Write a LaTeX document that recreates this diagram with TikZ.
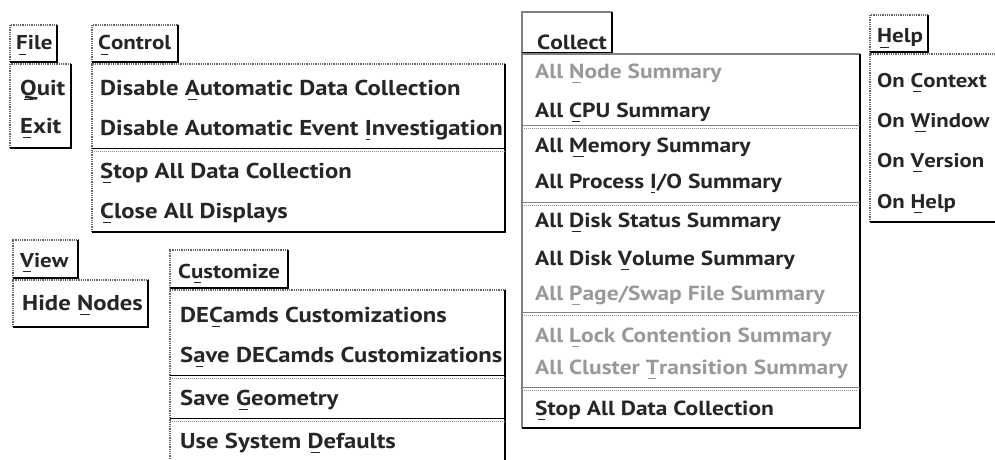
\documentclass[tikz,border=0pt]{standalone}
\usepackage{fontspec}
\setmainfont{PT Sans}[FakeStretch=1.15]
\newcommand\mnem[1]{\setbox0=\hbox{#1}\rlap{\hbox to \wd0{\hss\rule[-5pt]{0.6\wd0}{1.3pt}\hss}}\box0}
\newcommand\menuframe[4]{%
  \draw[dotline] (#1,#4) -- (#1,#2) -- (#3,#2);
  \draw[shadowline] (#3,#2) -- (#3,#4) -- (#1,#4);}
\tikzset{
  dotline/.style={draw=black!60, line width=1.8pt, dash pattern=on 1pt off 0.8pt},
  shadowline/.style={draw=black, line width=1.8pt},
  sepline/.style={draw=black, line width=1pt},
  sepdots/.style={draw=black!45, line width=1pt, dash pattern=on 1pt off 1pt},
  item/.style={anchor=base west, inner sep=0pt, text=black!85,
    font=\fontsize{21.5}{24}\selectfont\bfseries},
  ttl/.style={item, font=\fontsize{20}{24}\selectfont\bfseries},
  hitem/.style={item, font=\fontsize{19.8}{24}\selectfont\bfseries},
  citem/.style={item, font=\fontsize{20.4}{24}\selectfont\bfseries},
  dis/.style={citem, text=black!40},
}
\begin{document}
\begin{tikzpicture}[x=1pt,y=-1pt]
\useasboundingbox (0,0) rectangle (995,460);
% File
\menuframe{10}{25}{57}{62}
\node[ttl] (file) at (16,50) {\mnem{F}ile};
\menuframe{10}{64}{71}{148}
\node[item] (quit) at (20,95) {\mnem{Q}uit};
\node[item] (exit) at (20,133) {\mnem{E}xit};
% Control
\menuframe{92}{25}{178}{62}
\node[ttl] (control) at (98,50) {\mnem{C}ontrol};
\menuframe{92}{64}{505}{232}
\draw[sepline] (92,148) -- (505,148);
\draw[sepdots] (92,151) -- (505,151);
\node[item] (c1) at (100,95) {Disable \mnem{A}utomatic Data Collection};
\node[item] (c2) at (100,135) {Disable Automatic Event \mnem{I}nvestigation};
\node[item] (c3) at (100,178) {\mnem{S}top All Data Collection};
\node[item] (c4) at (100,218) {\mnem{C}lose All Displays};
% View
\menuframe{13}{240}{78}{278}
\node[ttl] (view) at (20,267) {\mnem{V}iew};
\menuframe{13}{280}{148}{327}
\node[item] (hide) at (22,310) {Hide \mnem{N}odes};
% Customize
\menuframe{170}{250}{288}{288}
\node[ttl] (cust) at (178,278) {C\mnem{u}stomize};
\draw[dotline] (170,470) -- (170,290) -- (505,290);
\draw[shadowline] (505,290) -- (505,470);
\draw[sepline] (170,375) -- (505,375);
\draw[sepdots] (170,378) -- (505,378);
\draw[sepline] (170,418) -- (505,418);
\draw[sepdots] (170,421) -- (505,421);
\node[item] (u1) at (180,322) {DE\mnem{C}amds Customizations};
\node[item] (u2) at (180,362) {S\mnem{a}ve DECamds Customizations};
\node[item] (u3) at (180,405) {Save \mnem{G}eometry};
\node[item] (u4) at (180,448) {Use System \mnem{D}efaults};
% Collect
\draw[draw=black!50, line width=1.8pt] (522,53) -- (522,12) -- (612,12);
\draw[shadowline] (612,12) -- (612,53) -- (522,53);
\node[citem] (collect) at (537,50) {C\mnem{o}llect};
\draw[draw=black!50, line width=2.2pt] (522,428) -- (522,54) -- (860,54);
\draw[shadowline] (860,54) -- (860,428) -- (522,428);
\foreach \yy in {125,202,312,387}{
  \draw[draw=black!50, line width=1pt] (522,\yy) -- (860,\yy);
  \draw[sepdots] (524,\yy+3) -- (858,\yy+3);
}
\node[dis] (k1) at (535,78) {All \mnem{N}ode Summary};
\node[citem] (k2) at (535,117) {All \mnem{C}PU Summary};
\node[citem] (k3) at (535,152) {All \mnem{M}emory Summary};
\node[citem] (k4) at (535,188) {All Process \mnem{I}/O Summary};
\node[citem] (k5) at (535,227) {All \mnem{D}isk Status Summary};
\node[citem] (k6) at (535,265) {All Disk \mnem{V}olume Summary};
\node[dis] (k7) at (535,300) {All \mnem{P}age/Swap File Summary};
\node[dis] (k8) at (535,342) {All \mnem{L}ock Contention Summary};
\node[dis] (k9) at (535,374) {All Cluster \mnem{T}ransition Summary};
\node[citem] (k10) at (535,415) {\mnem{S}top All Data Collection};
% Help
\menuframe{870}{15}{928}{52}
\node[ttl] (help) at (877,43) {\mnem{H}elp};
\draw[dotline] (870,222) -- (870,54) -- (1000,54);
\draw[shadowline] (870,222) -- (1000,222);
\node[hitem] (h1) at (877,87) {On \mnem{C}ontext};
\node[hitem] (h2) at (877,127) {On \mnem{W}indow};
\node[hitem] (h3) at (877,167) {On \mnem{V}ersion};
\node[hitem] (h4) at (877,208) {On \mnem{H}elp};
\end{tikzpicture}
\end{document}
